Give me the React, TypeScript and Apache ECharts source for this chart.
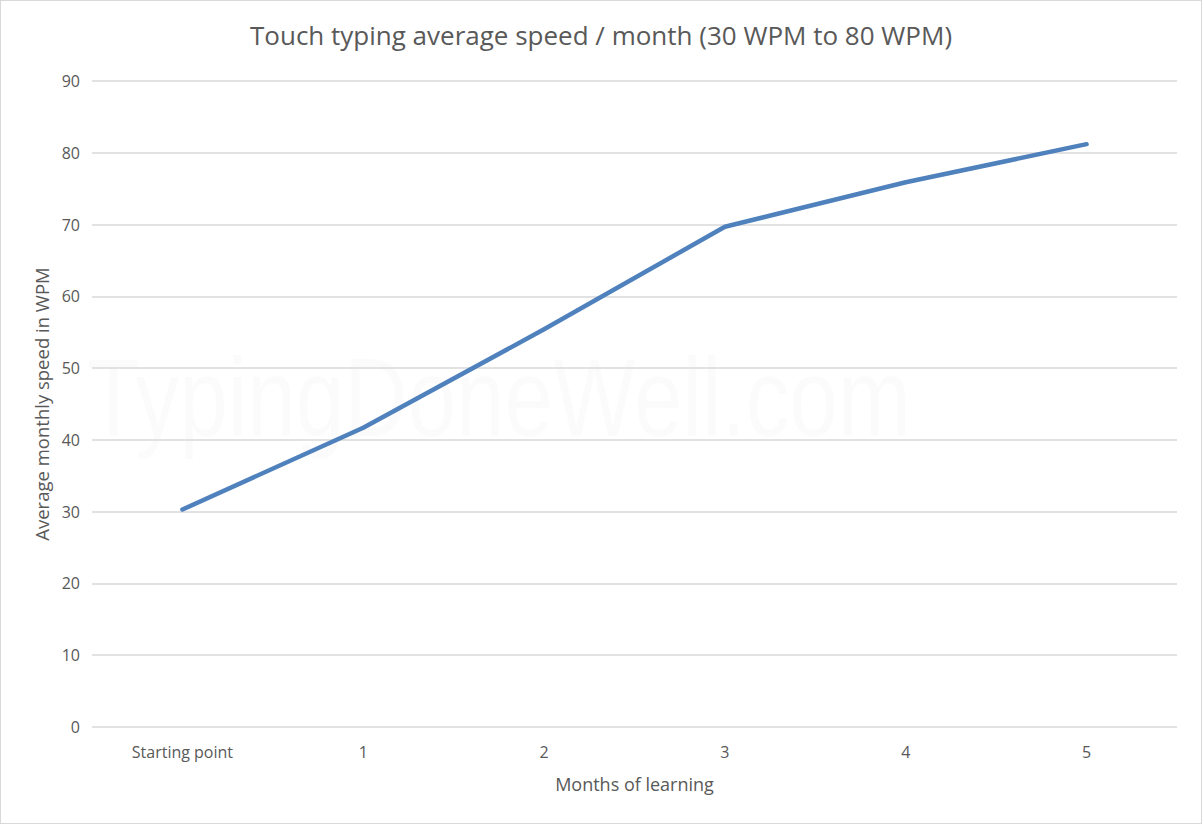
import React, { useEffect, useRef } from "react";
import * as echarts from "echarts";

const categories: string[] = ["Starting point", "1", "2", "3", "4", "5"];
const speedValues: number[] = [30.3, 41.7, 55.4, 69.7, 75.9, 81.2];
const yTicks = { min: 0, max: 90, interval: 10 };

const titleText = "Touch typing average speed / month (30 WPM to 80 WPM)";
const xName = "Months of learning";
const yName = "Average monthly speed in WPM";
const watermark = "TypingDoneWell.com";

const FONT = "'Open Sans', 'Noto Sans', sans-serif";

export default function App() {
  const ref = useRef<HTMLDivElement>(null);
  useEffect(() => {
    document.body.style.margin = "0";
    if (!ref.current) return;
    const chart = echarts.init(ref.current, undefined, { renderer: "svg" });
    chart.setOption({
      animation: false,
      backgroundColor: "#ffffff",
      textStyle: { fontFamily: FONT },
      title: {
        text: titleText,
        left: "center",
        top: 16,
        textStyle: { fontFamily: FONT, fontSize: 26, fontWeight: "normal", color: "#595959" },
      },
      graphic: [
        {
          type: "text",
          x: 86,
          y: 340,
          scaleX: 0.78,
          z: -10,
          silent: true,
          style: {
            text: watermark,
            fontSize: 112,
            fontFamily: "'Liberation Sans', sans-serif",
            fill: "rgba(0,0,0,0.016)",
          },
        },
      ],
      grid: { left: 91, right: 24, top: 80, bottom: 96, containLabel: false },
      xAxis: {
        type: "category",
        data: categories,
        boundaryGap: true,
        name: xName,
        nameLocation: "middle",
        nameGap: 48,
        nameTextStyle: { fontFamily: FONT, fontSize: 18, color: "#595959" },
        axisLine: { show: false },
        axisTick: { show: false },
        axisLabel: { fontFamily: FONT, fontSize: 16, color: "#595959", margin: 17 },
      },
      yAxis: {
        type: "value",
        min: yTicks.min,
        max: yTicks.max,
        interval: yTicks.interval,
        name: yName,
        nameLocation: "middle",
        nameGap: 41,
        nameTextStyle: { fontFamily: FONT, fontSize: 18.5, color: "#595959" },
        axisLine: { show: false },
        axisTick: { show: false },
        axisLabel: { fontFamily: FONT, fontSize: 16, color: "#595959", margin: 12 },
        splitLine: { lineStyle: { color: "#d9d9d9", width: 1.5 } },
      },
      series: [
        {
          type: "line",
          data: speedValues,
          showSymbol: false,
          symbol: "none",
          lineStyle: { color: "#4f81bd", width: 4.5, cap: "round", join: "round" },
          itemStyle: { color: "#4f81bd" },
        },
      ],
    });
    return () => chart.dispose();
  }, []);
  return (
    <div
      ref={ref}
      style={{
        width: 1202,
        height: 824,
        boxSizing: "border-box",
        border: "1px solid #d9d9d9",
        position: "absolute",
        left: 0,
        top: 0,
      }}
    />
  );
}
